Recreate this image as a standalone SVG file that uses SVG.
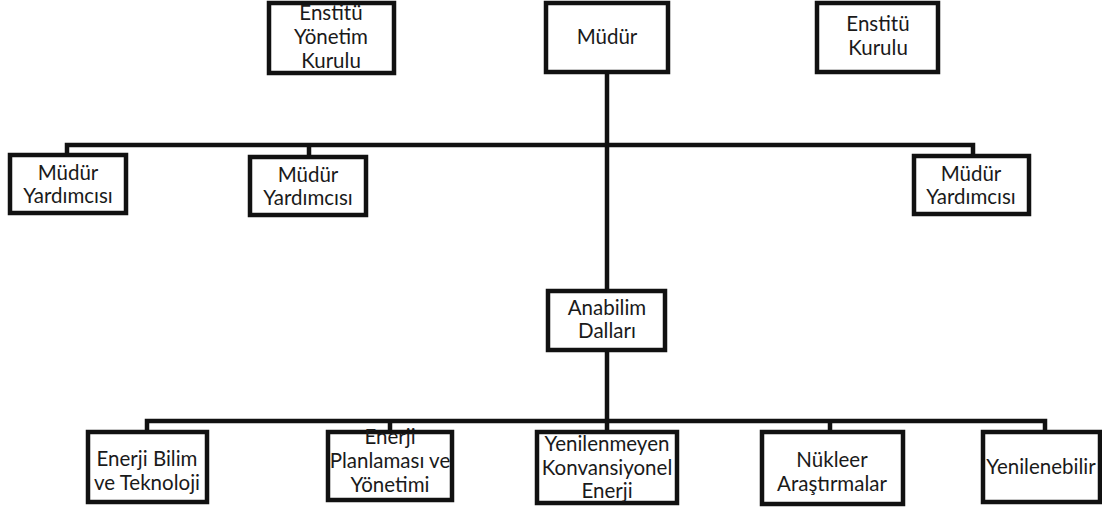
<svg xmlns="http://www.w3.org/2000/svg" width="1102" height="510" viewBox="0 0 1102 510">
<style>
.box{fill:#fff;stroke:#111;stroke-width:4.5}
.ln{fill:none;stroke:#111;stroke-width:4.5;stroke-linejoin:miter}
text{font-family:Lato,"Open Sans","Liberation Sans",sans-serif;font-size:20.5px;fill:#1a1a1a;text-anchor:middle}
</style>
<rect width="1102" height="510" fill="#fff"/>
<g id="connectors">
<path class="ln" d="M607 72 V291 M607 350 V432"/>
<path class="ln" d="M67 155 V145 H973 V156 M309 145 V157"/>
<path class="ln" d="M147 432 V421 H1045 V432 M390 421 V432 M830 421 V432"/>
</g>
<g id="n-eyk"><rect class="box" x="269" y="3" width="125" height="70"/><text x="331" y="20">Enstitü</text><text x="331" y="44">Yönetim</text><text x="331" y="68">Kurulu</text></g>
<g id="n-mudur"><rect class="box" x="546" y="3" width="122" height="69"/><text x="607" y="44">Müdür</text></g>
<g id="n-ek"><rect class="box" x="817" y="3" width="121" height="69"/><text x="878" y="31">Enstitü</text><text x="878" y="55">Kurulu</text></g>
<g id="n-my1"><rect class="box" x="10" y="155" width="116" height="58"/><text x="68" y="180">Müdür</text><text x="68" y="203">Yardımcısı</text></g>
<g id="n-my2"><rect class="box" x="250" y="157" width="116" height="58"/><text x="308" y="182">Müdür</text><text x="308" y="205">Yardımcısı</text></g>
<g id="n-my3"><rect class="box" x="914" y="156" width="115" height="58"/><text x="971" y="181">Müdür</text><text x="971" y="204">Yardımcısı</text></g>
<g id="n-ad"><rect class="box" x="548" y="291" width="117" height="59"/><text x="607" y="315">Anabilim</text><text x="607" y="338">Dalları</text></g>
<g id="n-ebt"><rect class="box" x="88" y="432" width="119" height="70"/><text x="147" y="466">Enerji Bilim</text><text x="147" y="490">ve Teknoloji</text></g>
<g id="n-epy"><rect class="box" x="328" y="432" width="124" height="68"/><text x="390" y="444">Enerji</text><text x="390" y="468">Planlaması ve</text><text x="390" y="492">Yönetimi</text></g>
<g id="n-yke"><rect class="box" x="537" y="432" width="140" height="71"/><text x="607" y="451">Yenilenmeyen</text><text x="607" y="475">Konvansiyonel</text><text x="607" y="498">Enerji</text></g>
<g id="n-na"><rect class="box" x="762" y="432" width="141" height="72"/><text x="832" y="467">Nükleer</text><text x="832" y="491">Araştırmalar</text></g>
<g id="n-yen"><rect class="box" x="983" y="432" width="117" height="70"/><text x="1041" y="474">Yenilenebilir</text></g>
</svg>
